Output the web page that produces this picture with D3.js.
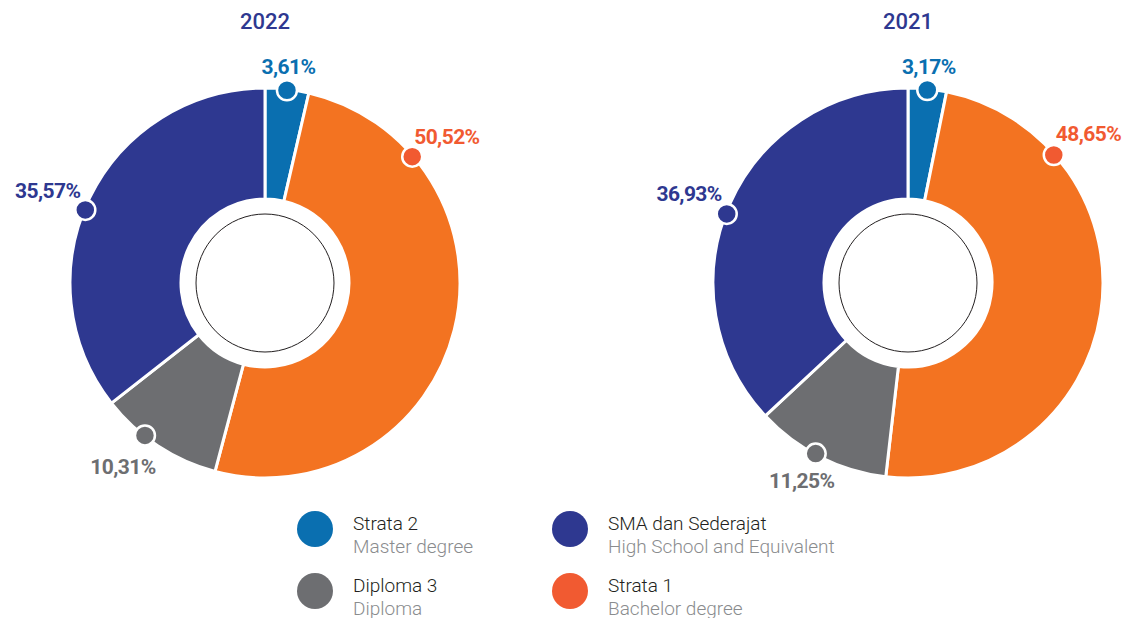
<!DOCTYPE html>
<html>
<head>
<meta charset="utf-8">
<script src="https://cdn.jsdelivr.net/npm/d3@7"></script>
<style>
  html, body { margin: 0; padding: 0; background: #fff; }
  svg { display: block; font-family: Roboto, "Noto Sans", sans-serif; }
</style>
</head>
<body>
<svg id="chart" width="1126" height="618"></svg>
<script>
// Education level composition of employees, per year
const categories = ["Strata 2", "Strata 1", "Diploma 3", "SMA dan Sederajat"];
const subtitles = ["Master degree", "Bachelor degree", "Diploma", "High School and Equivalent"];
const years = ["2022", "2021"];
const values2022 = [3.61, 50.52, 10.31, 35.57];
const values2021 = [3.17, 48.65, 11.25, 36.93];

const series = [values2022, values2021];

const arcColor = d3.scaleOrdinal().domain(categories)
  .range(["#0a6fb0", "#f37321", "#6d6e71", "#2e3890"]);
const dotColor = d3.scaleOrdinal().domain(categories)
  .range(["#0a6fb0", "#f15a31", "#6d6e71", "#2e3890"]);

const svg = d3.select("#chart");
const fmt = v => d3.format(".2f")(v).replace(".", ",") + "%";

const centersX = d3.scalePoint().domain(years).range([265, 908]);
const cy = 283, outerR = 195, innerR = 84, ringR = 69;

// marker placement (fraction of the slice's angular span) and label offsets from the marker
const labelLayout = {
  "2022": {
    "Strata 2": { f: 0.5, dx: 1.5, dy: -16, anchor: "middle" },
    "Strata 1": { f: 0.2, dx: 2, dy: -13, anchor: "start" },
    "Diploma 3": { f: 0.63, dx: -22, dy: 39, anchor: "middle" },
    "SMA dan Sederajat": { f: 0.47, dx: -5, dy: -12, anchor: "end" }
  },
  "2021": {
    "Strata 2": { f: 0.5, dx: 1.5, dy: -16, anchor: "middle" },
    "Strata 1": { f: 0.213, dx: 2, dy: -14, anchor: "start" },
    "Diploma 3": { f: 0.54, dx: -14, dy: 34, anchor: "middle" },
    "SMA dan Sederajat": { f: 0.48, dx: -5, dy: -13, anchor: "end" }
  }
};

const pie = d3.pie().sort(null).value(d => d.value);
const arc = d3.arc().innerRadius(innerR).outerRadius(outerR);

years.forEach((year, yi) => {
  const data = categories.map((c, i) => ({ cat: c, value: series[yi][i] }));
  const cx = centersX(year);
  const g = svg.append("g").attr("transform", `translate(${cx},${cy})`);

  const arcs = pie(data);

  g.selectAll("path.slice").data(arcs).join("path")
    .attr("class", "slice")
    .attr("d", arc)
    .attr("fill", d => arcColor(d.data.cat))
    .attr("stroke", "#fff")
    .attr("stroke-width", 3)
    .attr("stroke-linejoin", "miter");

  g.append("circle").attr("r", ringR)
    .attr("fill", "#fff").attr("stroke", "#231f20").attr("stroke-width", 1);

  arcs.forEach(a => {
    const L = labelLayout[year][a.data.cat];
    const ang = a.startAngle + (a.endAngle - a.startAngle) * L.f;
    const mx = Math.sin(ang) * (outerR - 1);
    const my = -Math.cos(ang) * (outerR - 1);
    g.append("circle")
      .attr("cx", mx).attr("cy", my).attr("r", 10)
      .attr("fill", dotColor(a.data.cat))
      .attr("stroke", "#fff").attr("stroke-width", 2.5);
    g.append("text")
      .attr("x", mx + L.dx).attr("y", my + L.dy)
      .attr("text-anchor", L.anchor)
      .attr("font-size", 21).attr("font-weight", 700)
      .attr("letter-spacing", -0.6)
      .attr("fill", dotColor(a.data.cat))
      .text(fmt(a.data.value));
  });

  svg.append("text")
    .attr("x", cx).attr("y", 29)
    .attr("text-anchor", "middle")
    .attr("font-size", 22).attr("font-weight", 500)
    .attr("fill", "#2e3890")
    .text(year);
});

// legend: two columns, two rows
const legendOrder = ["Strata 2", "SMA dan Sederajat", "Diploma 3", "Strata 1"];
const colX = d3.scalePoint().domain([0, 1]).range([315, 570]);
const rowY = d3.scalePoint().domain([0, 1]).range([529, 591]);
const legend = svg.append("g");
legendOrder.forEach((c, i) => {
  const x = colX(i % 2), y = rowY(Math.floor(i / 2));
  const gi = legend.append("g").attr("transform", `translate(${x},${y})`);
  gi.append("circle").attr("r", 18).attr("fill", dotColor(c));
  gi.append("text").attr("x", 38).attr("y", 1)
    .attr("font-size", 19).attr("font-weight", 300).attr("fill", "#231f20")
    .text(c);
  gi.append("text").attr("x", 38).attr("y", 24)
    .attr("font-size", 19).attr("font-weight", 300).attr("fill", "#8a8c8e")
    .text(subtitles[categories.indexOf(c)]);
});
</script>
</body>
</html>
